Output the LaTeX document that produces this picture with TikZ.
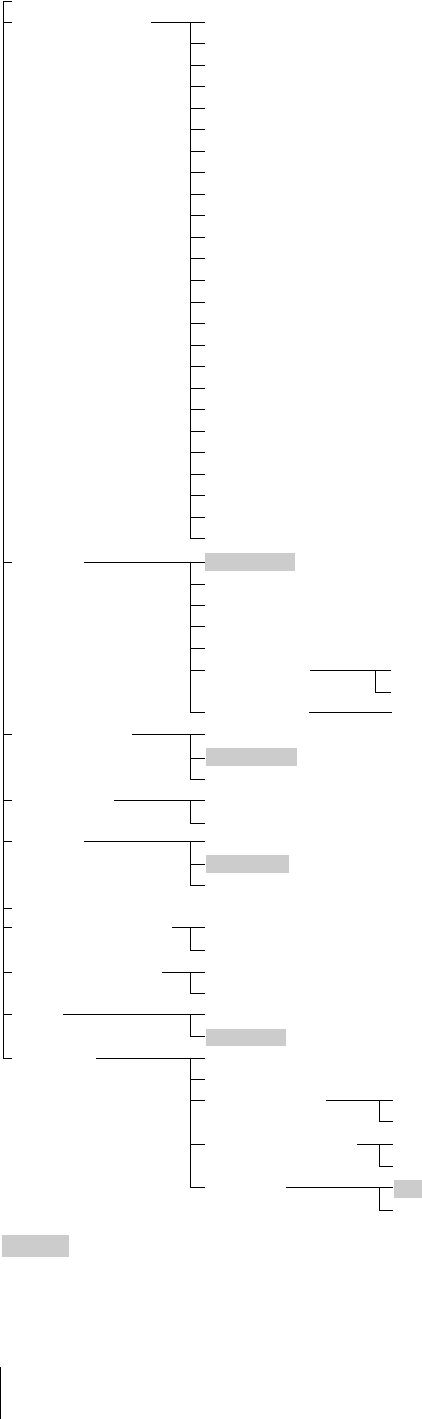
\documentclass[tikz,border=0pt]{standalone}
\definecolor{boxgray}{RGB}{204,204,204}
\begin{document}
\begin{tikzpicture}[x=1pt,y=-1pt,line width=1pt,
  hl/.style={fill=boxgray,draw=none,inner sep=0pt,anchor=north west}]
\useasboundingbox (0,0) rectangle (421,1419);

% highlighted labels
\node[hl,minimum width=90,minimum height=18] (hlc) at (204,552) {};
\node[hl,minimum width=91,minimum height=18] (hld) at (205,747) {};
\node[hl,minimum width=83,minimum height=18.5] (hlf) at (205,854) {};
\node[hl,minimum width=80,minimum height=17.5] (hlj) at (205,1028) {};
\node[hl,minimum width=28,minimum height=18] (hlk) at (393,1179) {};
\node[hl,minimum width=67,minimum height=22.5] (hlfoot) at (1,1234) {};

% trunk
\coordinate (root) at (12,1);
\coordinate (last) at (12,1058.5);
\draw (root) -| (3.5,1058.5) -- (last);
\foreach \y/\n in {22/b,562/c,734.5/d,800/e,841.5/f,908.5/g,927.5/h,972/i,1014.5/j}{
  \coordinate (t\n) at (3.5,\y);
  \coordinate (t\n r) at (12,\y);
  \draw (t\n) -- (t\n r);
}

% first level: start, row, last child
\foreach \n/\x/\y/\z in {b/151/22/539, c/84/562/712, d/132/734.5/779,
    e/114/800/823, f/84/841.5/885, h/172/927.5/950, i/162/972/993.5,
    j/63/1014.5/1036.5, k/96/1058.5/1187.5}{
  \coordinate (\n0) at (\x,\y);
  \coordinate (\n1) at (205,\y);
  \coordinate (\n top) at (190,\y);
  \coordinate (\n end) at (190,\z);
  \draw (\n0) -- (\n1);
  \draw (\n top) -- (\n end);
}

% children
\foreach \i in {1,...,24}{
  \coordinate (b\i) at (190,22+\i*21.54);
  \coordinate (b\i r) at (205,22+\i*21.54);
  \draw (b\i) -- (b\i r);
}
\foreach \y [count=\i] in {584,605,626.5,648,670,712}{
  \coordinate (c\i) at (190,\y);
  \coordinate (c\i r) at (205,\y);
  \draw (c\i) -- (c\i r);
}
\foreach \n/\y in {d1/758,d2/779,e1/823,f1/864,f2/885,h1/950,i1/993.5,
    j1/1036.5,k1/1079.5,k2/1100.5,k3/1144,k4/1187.5}{
  \coordinate (\n) at (190,\y);
  \coordinate (\n r) at (205,\y);
  \draw (\n) -- (\n r);
}

% second level
\coordinate (c5a) at (310,670);
\coordinate (c5b) at (391,670);
\coordinate (c5v) at (375.5,670);
\coordinate (c5c) at (391,692.5);
\draw (c5a) -- (c5b);
\draw (c5v) |- (c5c);
\coordinate (c6a) at (309,712);
\coordinate (c6b) at (391.5,712);
\draw (c6a) -- (c6b);

\foreach \n/\x/\y/\z in {k2/326/1100.5/1121.5, k3/357/1144/1166.5, k4/286/1187.5/1210.5}{
  \coordinate (\n a) at (\x,\y);
  \coordinate (\n b) at (393,\y);
  \coordinate (\n v) at (379,\y);
  \coordinate (\n c) at (393,\z);
  \draw (\n a) -- (\n b);
  \draw (\n v) |- (\n c);
}

% margin bar
\coordinate (bar0) at (0.5,1367);
\coordinate (bar1) at (0.5,1419);
\draw (bar0) -- (bar1);
\end{tikzpicture}
\end{document}
